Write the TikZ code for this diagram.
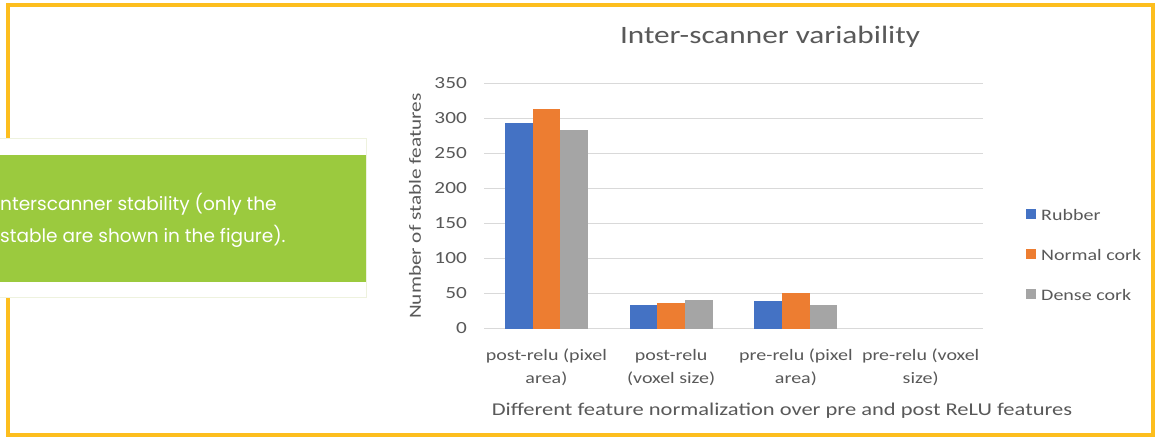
\documentclass[tikz,border=0pt]{standalone}
\usepackage{fontspec}
\setmainfont{Carlito}[FakeStretch=1.25]
\newfontfamily\boxfont{Poppins}
\usetikzlibrary{positioning, calc}
\definecolor{frameyellow}{HTML}{FDBE1E}
\definecolor{boxgreen}{HTML}{9BCA3E}
\definecolor{boxedge}{HTML}{EEF2DE}
\definecolor{rubberblue}{HTML}{4472C4}
\definecolor{corkorange}{HTML}{ED7D31}
\definecolor{densegray}{HTML}{A5A5A5}
\definecolor{gridgray}{HTML}{D9D9D9}
\definecolor{textgray}{HTML}{595959}

\begin{document}
\begin{tikzpicture}[x=1pt, y=-1pt,
    chartfont/.style={text=textgray, font=\fontsize{18}{23}\selectfont, inner sep=0pt}]
        \useasboundingbox (0,0) rectangle (1156,437);
        \fill[white] (0,0) rectangle (1156,437);

        % frame
        \draw[frameyellow, line width=4pt] (7.5,5) rectangle (1153,434.5);

        % green caption box
        \fill[white] (0,138) rectangle (366,298);
        \draw[boxedge, line width=1pt] (-1,138.5) -- (366,138.5) -- (366,297.5) -- (-1,297.5);
        \fill[boxgreen] (0,155) rectangle (366,282);
        \node[anchor=base west, text=white, inner sep=0pt, font=\boxfont\fontsize{18.5}{32}\selectfont, align=left]
            (caption) at (0,242.5) {nterscanner stability (only the\\stable are shown in the figure).};

        % title
        \node[chartfont, font=\fontsize{25}{30}\selectfont, anchor=base] (title) at (770,43) {Inter-scanner variability};

        % grid and y ticks
        \foreach \v in {0,50,...,350} {
            \pgfmathsetmacro{\yy}{328.5-0.7*\v}
            \draw[gridgray, line width=1.3pt] (484,\yy) -- (983,\yy);
            \node[chartfont, font=\fontsize{17}{20}\selectfont, anchor=east] (tick\v) at (467,\yy) {\v};
        }

        % bars (the fourth group is empty)
        \foreach \g/\a/\b/\c in {0/294/313/283, 1/34/37/41, 2/39/51/34} {
            \pgfmathsetmacro{\cx}{546.4+124.75*\g}
            \fill[rubberblue] (\cx-41.5,328.5) rectangle (\cx-13.8,328.5-0.7*\a);
            \fill[corkorange] (\cx-13.8,328.5) rectangle (\cx+13.8,328.5-0.7*\b);
            \fill[densegray] (\cx+13.8,328.5) rectangle (\cx+41.5,328.5-0.7*\c);
        }

        % category labels
        \foreach \g/\lab in {0/{post-relu (pixel\\area)}, 1/{post-relu\\(voxel size)},
                             2/{pre-relu (pixel\\area)}, 3/{pre-relu (voxel\\size)}} {
            \node[chartfont, font=\fontsize{16}{23}\selectfont, anchor=base, align=center]
                (cat\g) at (546.4+124.75*\g,383) {\lab};
        }

        % axis titles
        \node[chartfont, anchor=base] (xlabel) at (782,415)
            {Different feature normalization over pre and post ReLU features};
        \node[chartfont, font=\fontsize{17}{20}\selectfont, rotate=90, anchor=center]
            (ylabel) at (415,206) {Number of stable features};

        % legend
        \foreach \i/\col/\name in {0/rubberblue/Rubber, 1/corkorange/Normal cork, 2/densegray/Dense cork} {
            \fill[\col] (1026,209+40*\i) rectangle (1036,219+40*\i);
            \node[chartfont, font=\fontsize{16}{20}\selectfont, anchor=base west] (leg\i) at (1041,220+40*\i) {\name};
        }
    \end{tikzpicture}
\end{document}
